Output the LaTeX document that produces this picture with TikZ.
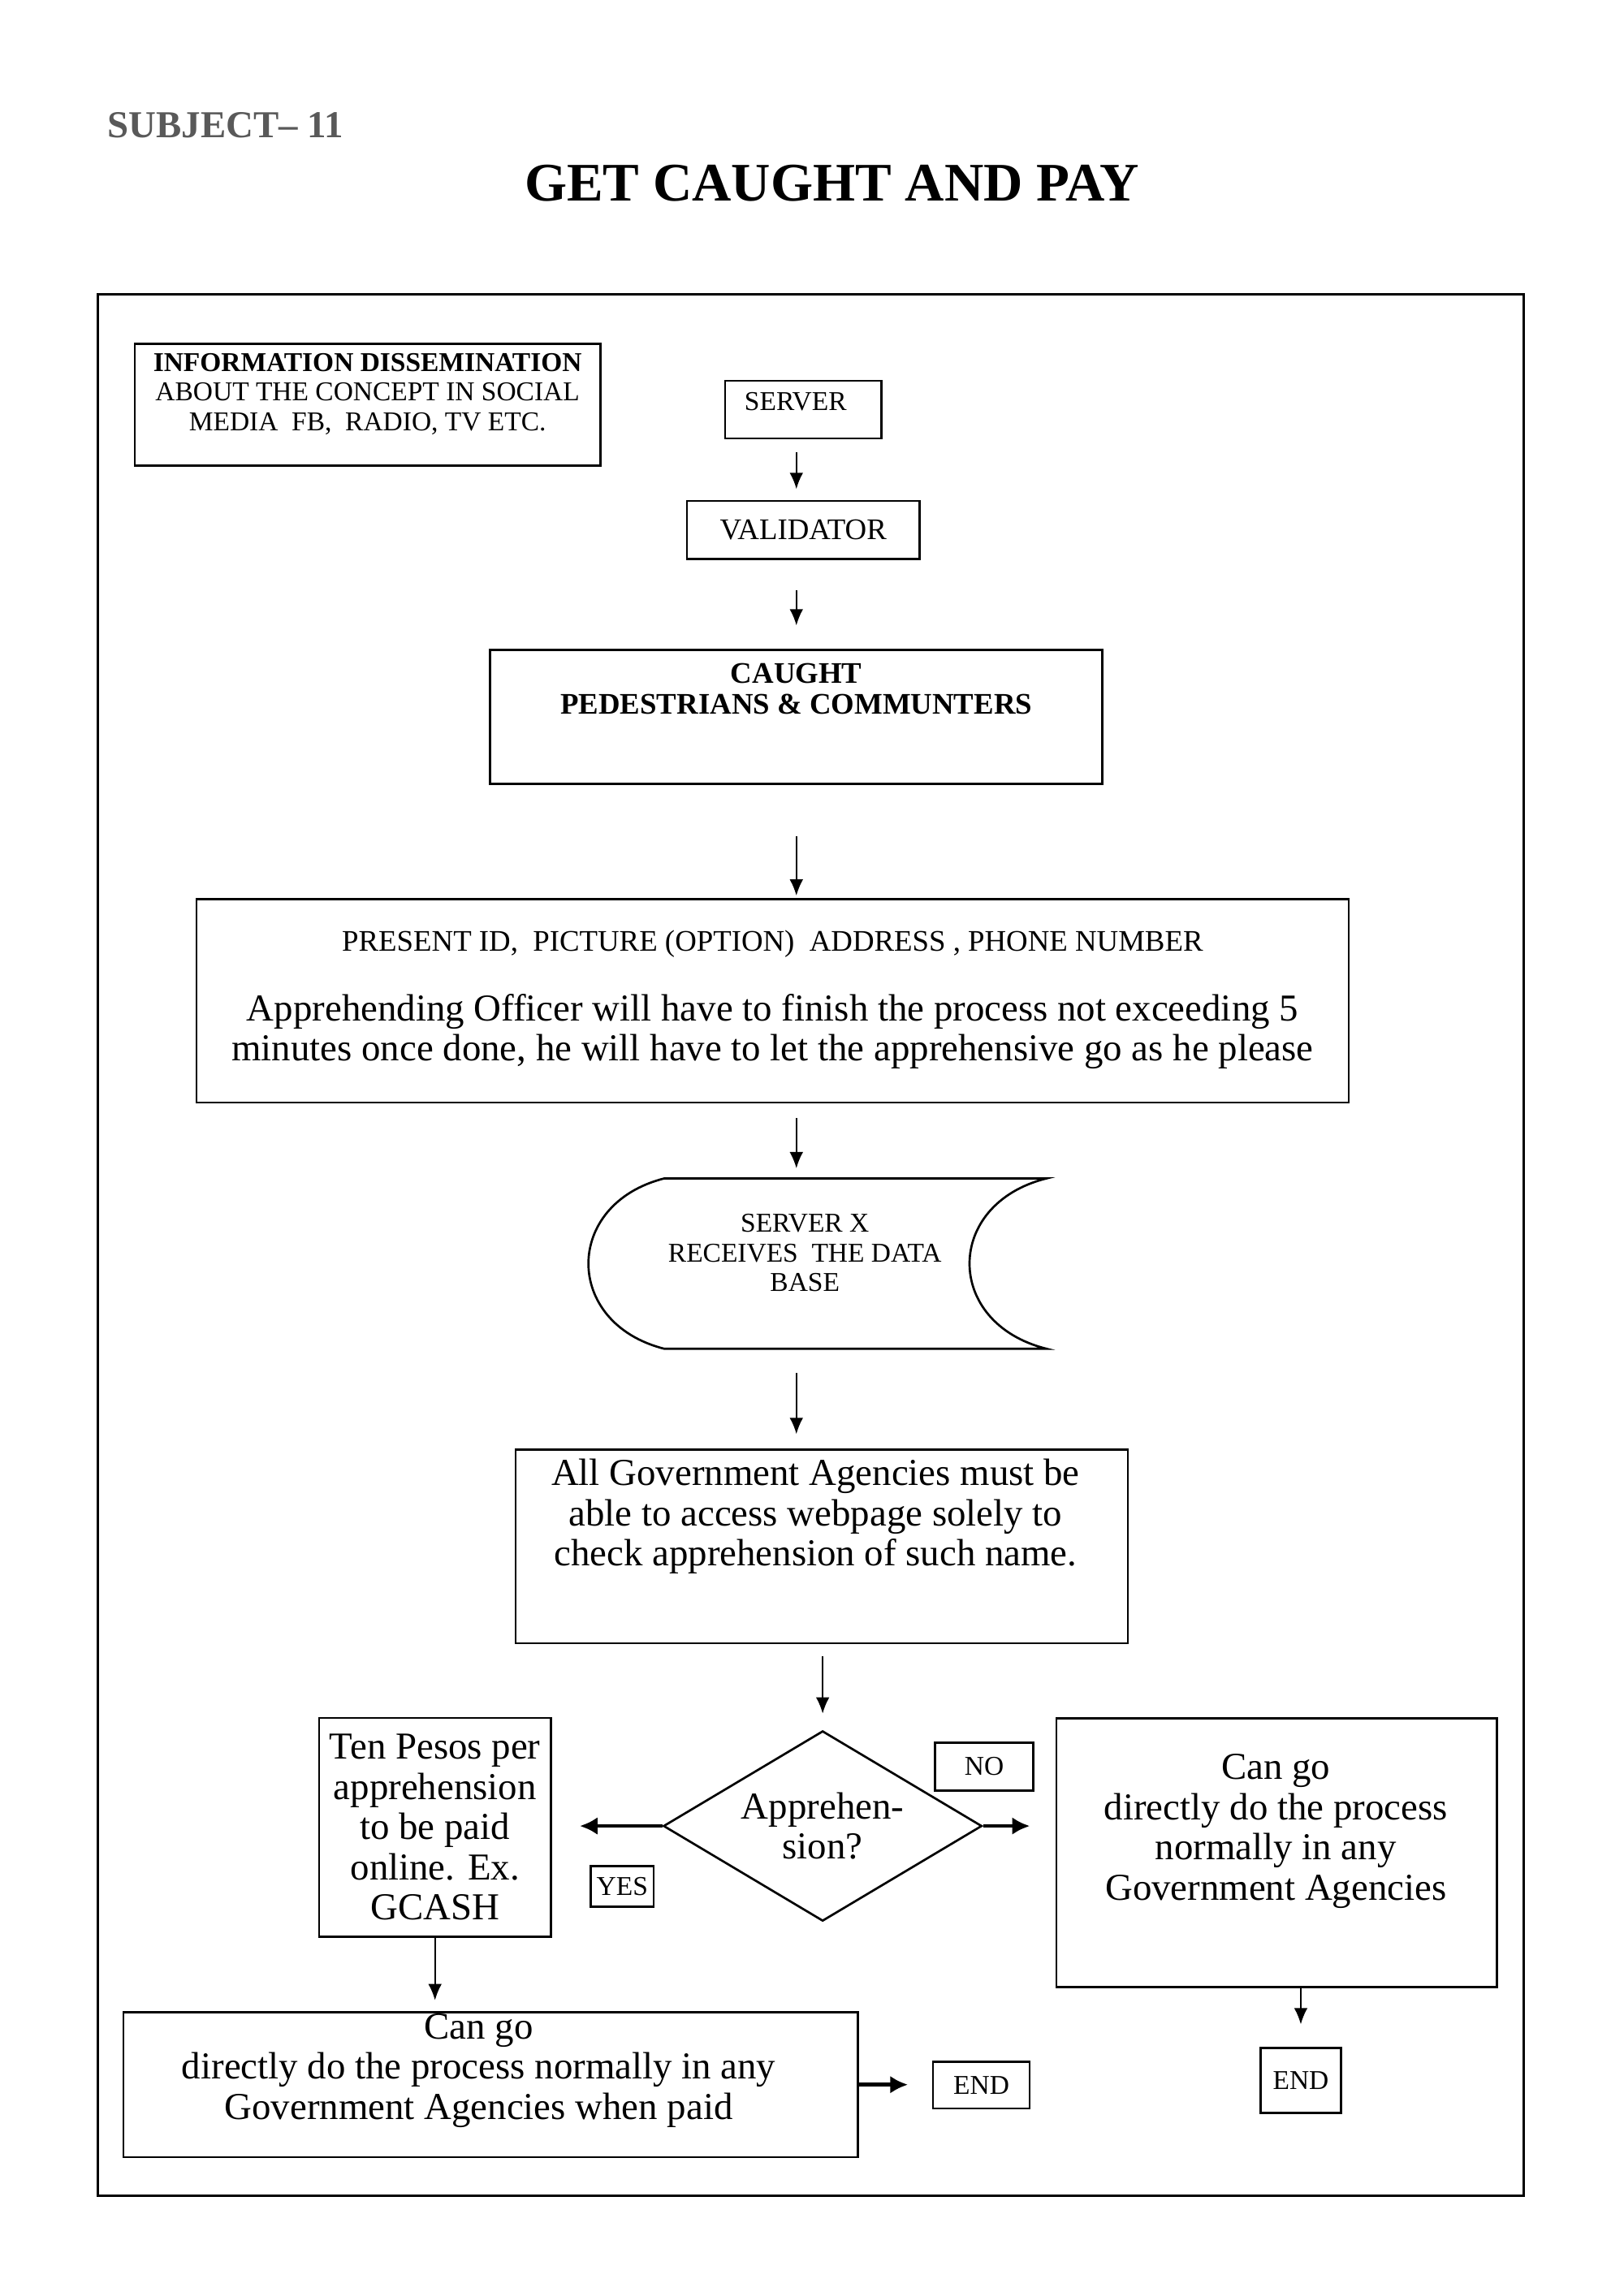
\documentclass[tikz,border=0pt]{standalone}
\usepackage{fontspec}
\setmainfont{Liberation Serif}
\usetikzlibrary{arrows.meta,shapes.geometric}

\begin{document}
\begin{tikzpicture}[
    box/.style={draw, line width=0.8pt, inner sep=0pt},
    tiny/.style={font=\fontsize{10}{10.9}\selectfont, align=center, inner sep=0pt},
    mid/.style={font=\fontsize{11}{11.5}\selectfont, align=center, inner sep=0pt},
    big/.style={font=\fontsize{14}{14.8}\selectfont, align=center, inner sep=0pt},
    arr/.style={-{Latex[length=6pt,width=5pt]}, line width=0.6pt},
    fatarr/.style={-{Latex[length=6.5pt,width=6.5pt]}, line width=1.4pt}
  ]
  \useasboundingbox (0,0) rectangle (21,-29.7);

  % heading
  \node[anchor=base west, inner sep=0pt, font=\fontsize{14}{16}\selectfont\bfseries, text=black!65] (subj) at (1.386,-1.785) {SUBJECT– 11};
  \node[anchor=base, inner sep=0pt, font=\fontsize{20}{24}\selectfont\bfseries] (title) at (10.76,-2.594) {GET CAUGHT AND PAY};

  % page frame
  \draw[line width=0.9pt] (1.27,-3.81) rectangle (19.71,-28.40);

  % top part
  \node[box, minimum width=6.023cm, minimum height=1.573cm] (info) at (4.754,-5.237) {};
  \node[tiny] at (4.754,-5.095) {\textbf{INFORMATION DISSEMINATION}\\ABOUT THE CONCEPT IN SOCIAL\\MEDIA~ FB,~ RADIO, TV ETC.};

  \node[box, minimum width=2.024cm, minimum height=0.744cm] (srv) at (10.389,-5.299) {};
  \node[tiny] at (10.29,-5.19) {SERVER};
  \node[box, minimum width=3.007cm, minimum height=0.754cm, font=\fontsize{11}{12}\selectfont] (val) at (10.389,-6.857) {VALIDATOR};

  \node[box, minimum width=7.919cm, minimum height=1.737cm] (caught) at (10.30,-9.273) {};
  \node[mid, font=\fontsize{11}{11.5}\selectfont\bfseries] at (10.30,-8.911) {CAUGHT\\PEDESTRIANS \& COMMUNTERS};

  \node[box, minimum width=14.904cm, minimum height=2.63cm] (present) at (9.992,-12.945) {};
  \node[mid] at (9.992,-12.205) {PRESENT ID,~ PICTURE (OPTION)~ ADDRESS , PHONE NUMBER};
  \node[big] at (9.992,-13.342) {Apprehending Officer will have to finish the process not exceeding 5\\minutes once done, he will have to let the apprehensive go as he please};

  % stored data
  \node[minimum width=5.91cm, minimum height=2.19cm, inner sep=0pt] (db) at (10.575,-16.345) {};
  \draw[line width=0.8pt] ([xshift=9.8mm]db.north west) -- (db.north east)
    .. controls ([xshift=-13.3mm,yshift=-3.3mm]db.north east) and ([xshift=-13.3mm,yshift=3.3mm]db.south east) .. (db.south east)
    -- ([xshift=9.8mm]db.south west)
    .. controls ([xshift=-3.3mm,yshift=3.3mm]db.south west) and ([xshift=-3.3mm,yshift=-3.3mm]db.north west) .. ([xshift=9.8mm]db.north west);
  \node[tiny] at (10.41,-16.21) {SERVER X\\RECEIVES~ THE DATA\\BASE};

  \node[box, minimum width=7.919cm, minimum height=2.501cm] (gov) at (10.628,-20.005) {};
  \node[big] at (10.548,-19.618) {All Government Agencies must be\\able to access webpage solely to\\check apprehension of such name.};

  % decision
  \node[draw, diamond, aspect=1.7, line width=0.8pt, big, minimum width=4.12cm, minimum height=2.46cm] (dia) at (10.64,-23.62) {Apprehen-\\sion?};
  \node[box, tiny, minimum width=1.27cm, minimum height=0.62cm] (no) at (12.73,-22.85) {NO};
  \node[box, tiny, minimum width=0.814cm, minimum height=0.526cm] (yes) at (8.048,-24.40) {YES};

  \node[box, big, minimum width=2.997cm, minimum height=2.828cm] (pesos) at (5.626,-23.637) {Ten Pesos per\\apprehension\\to be paid\\online. Ex.\\GCASH};
  \node[box, minimum width=5.696cm, minimum height=3.473cm] (rbox) at (16.512,-23.964) {};
  \node[big] at (16.502,-23.686) {Can go\\directly do the process\\normally in any\\Government Agencies};

  \node[box, minimum width=9.496cm, minimum height=1.875cm] (bbox) at (6.346,-26.966) {};
  \node[big] at (6.192,-26.782) {Can go\\directly do the process normally in any\\Government Agencies when paid};

  \node[box, tiny, minimum width=1.25cm, minimum height=0.605cm] (endl) at (12.692,-26.971) {END};
  \node[box, tiny, minimum width=1.042cm, minimum height=0.843cm] (endr) at (16.824,-26.911) {END};

  % arrows
  \coordinate (spine) at (10.30,0);
  \draw[arr, shorten <=1.6mm, shorten >=1.4mm] (srv.south -| spine) -- (val.north -| spine);
  \draw[arr, shorten <=3.9mm, shorten >=3mm] (val.south -| spine) -- (caught.north -| spine);
  \draw[arr, shorten <=6.6mm, shorten >=0.3mm] (caught.south -| spine) -- (present.north -| spine);
  \draw[arr, shorten <=1.9mm, shorten >=1.3mm] (present.south -| spine) -- (db.north -| spine);
  \draw[arr, shorten <=3.1mm, shorten >=1.9mm] (db.south -| spine) -- (gov.north -| spine);
  \draw[arr, shorten <=1.5mm, shorten >=2.1mm] (gov.south -| dia.north) -- (dia.north);
  \draw[fatarr, shorten >=3.6mm] (dia.west) -- (pesos.east |- dia.west);
  \draw[fatarr, shorten >=3.3mm] (dia.east) -- (rbox.west |- dia.east);
  \draw[arr, shorten >=1.4mm] (pesos.south) -- (bbox.north -| pesos.south);
  \draw[fatarr, shorten >=3.1mm] (bbox.east) -- (endl.west |- bbox.east);
  \draw[arr, shorten >=2.9mm] (rbox.south -| endr.north) -- (endr.north);
\end{tikzpicture}
\end{document}
